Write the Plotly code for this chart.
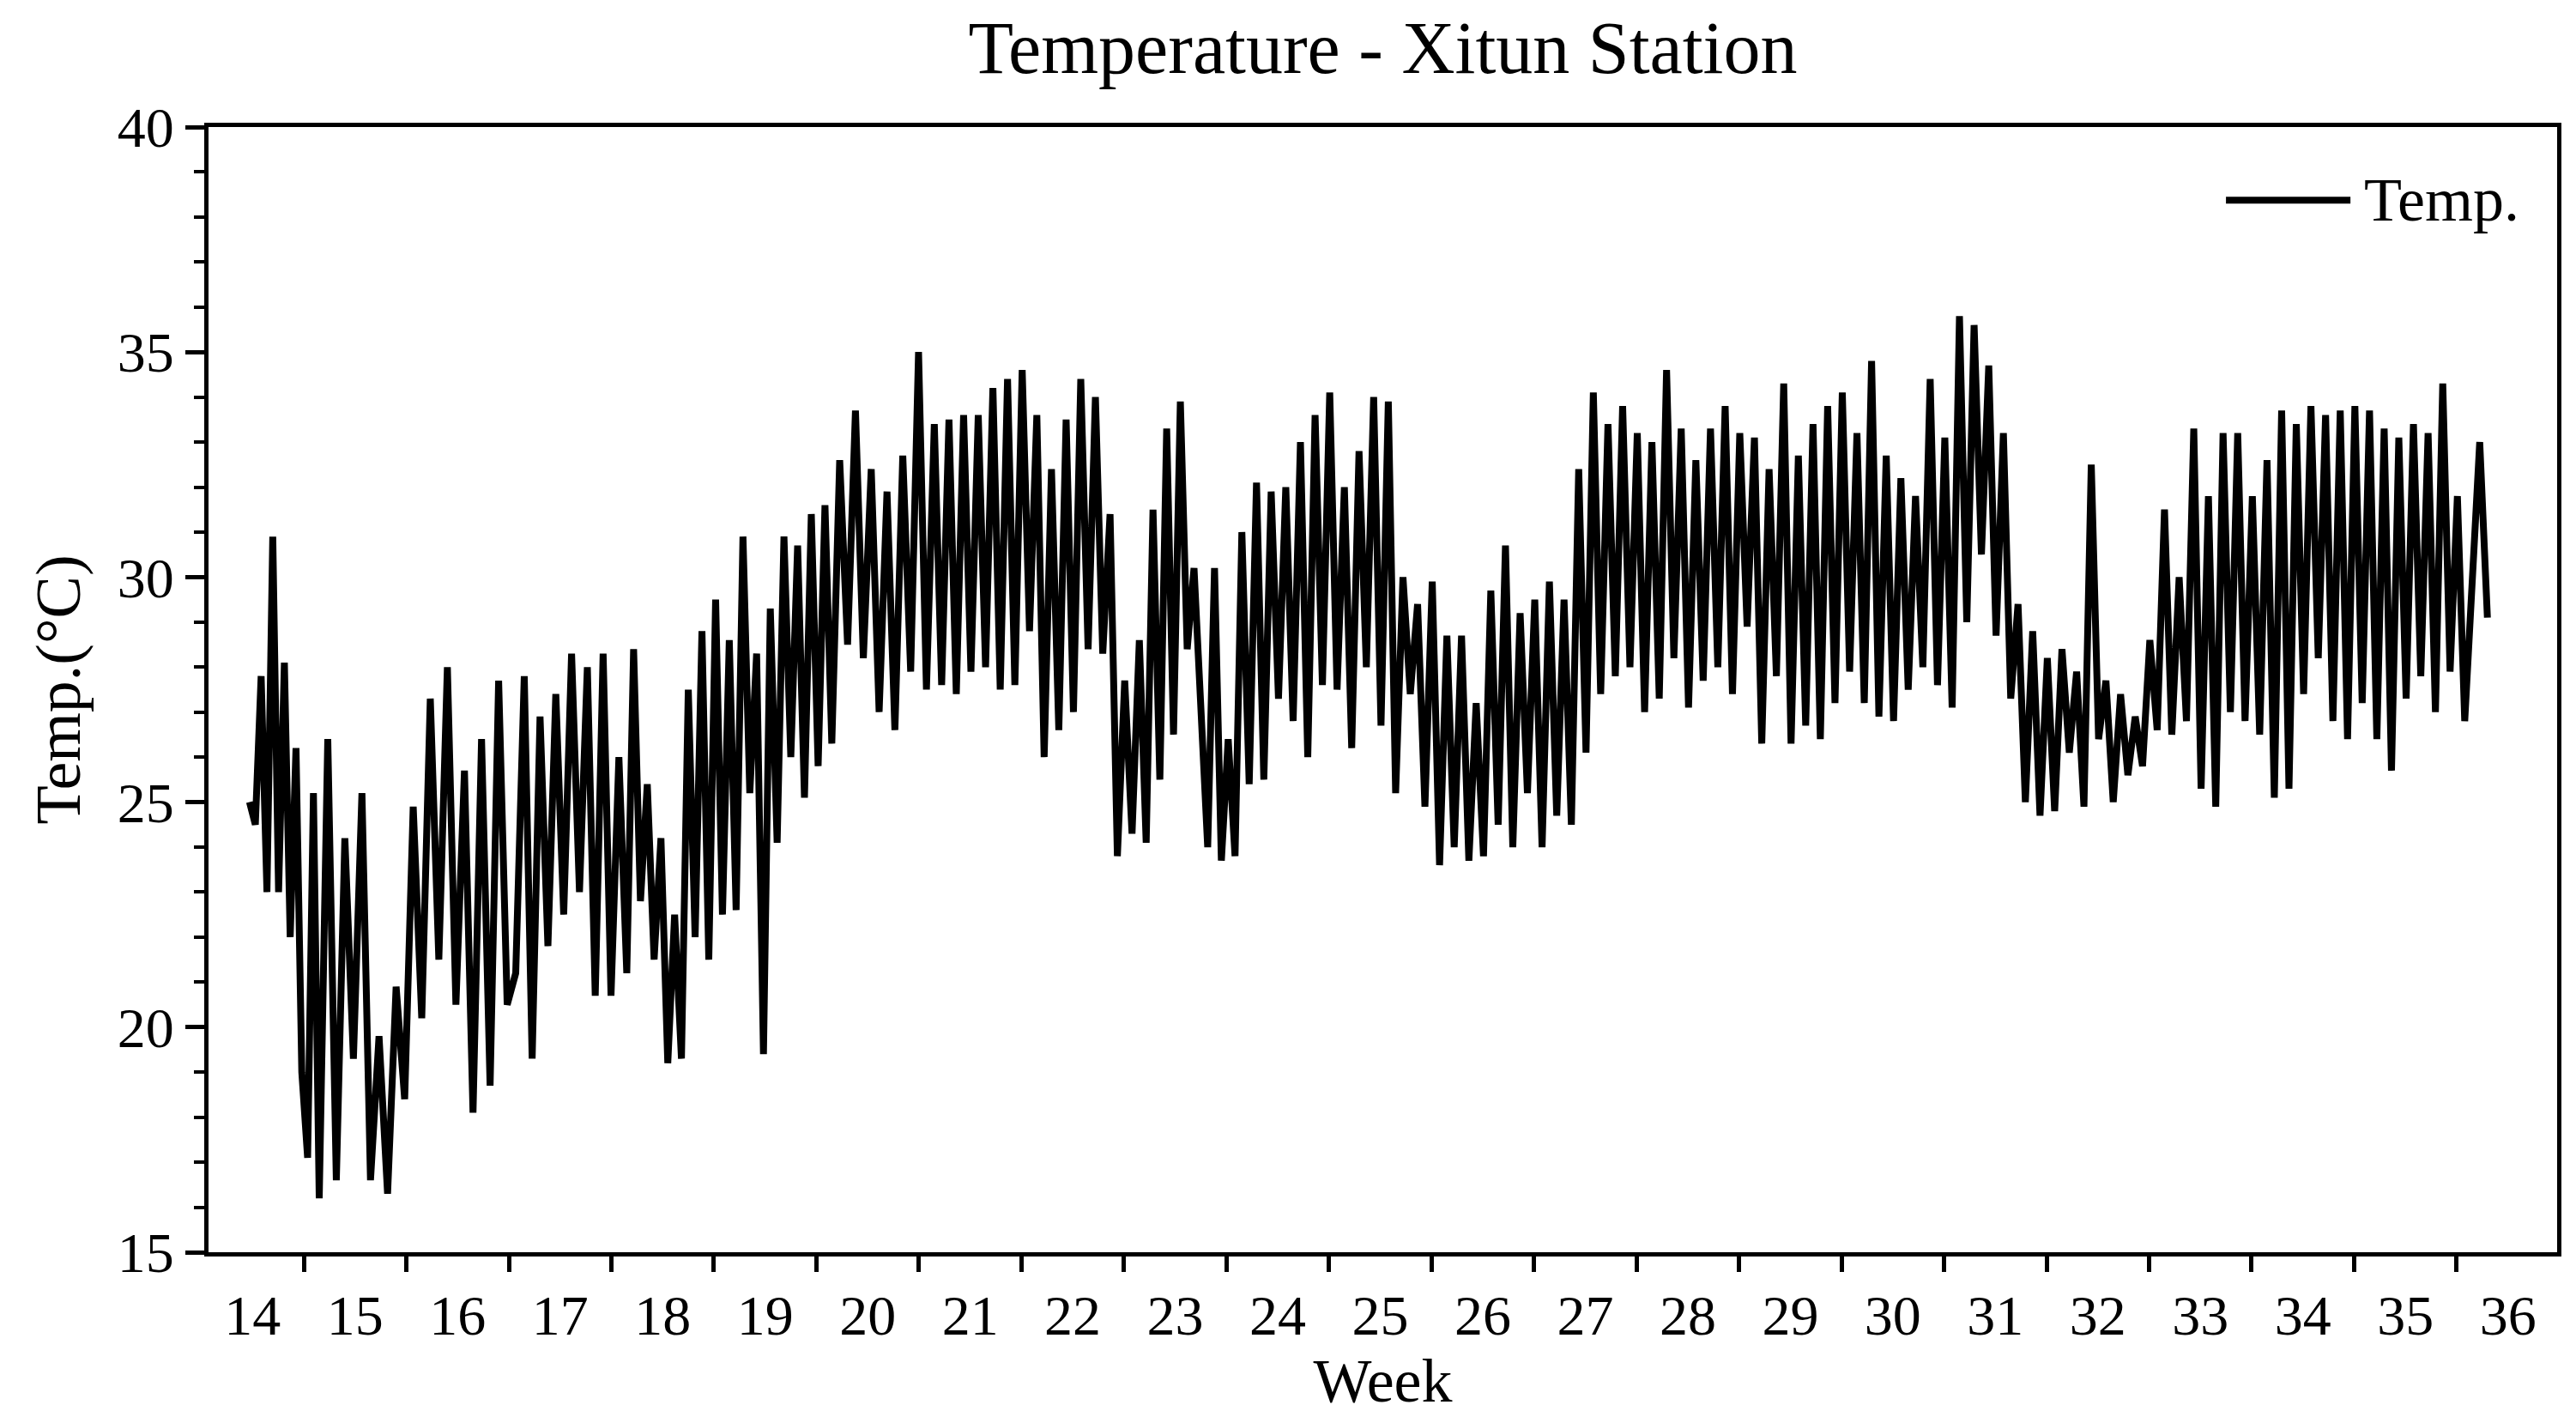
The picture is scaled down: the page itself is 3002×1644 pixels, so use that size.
import numpy as np
import plotly.graph_objects as go

# Alternating daily extrema (°C), week by week
w14 = [25.0, 24.5, 27.8, 23.0, 30.9, 23.0, 28.1, 22.0, 26.2, 19.0, 17.1, 25.2]
w15 = [16.2, 26.4, 16.6, 24.2, 19.3, 25.2, 16.6, 19.8, 16.3, 20.9, 18.4, 24.9]
w16 = [20.2, 27.3, 21.5, 28.0, 20.5, 25.7, 18.1, 26.4, 18.7, 27.7, 20.5, 21.2]
w17 = [27.8, 19.3, 26.9, 21.8, 27.4, 22.5, 28.3, 23.0, 28.0, 20.7, 28.3, 20.7, 26.0]
w18 = [21.2, 28.4, 22.8, 25.4, 21.5, 24.2, 19.2, 22.5, 19.3, 27.5, 22.0, 28.8, 21.5, 29.5, 22.5]
w19 = [28.6, 22.6, 30.9, 25.2, 28.3, 19.4, 29.3, 24.1, 30.9, 26.0, 30.7, 25.1, 31.4, 25.8, 31.6]
w20 = [26.3, 32.6, 28.5, 33.7, 28.2, 32.4, 27.0, 31.9, 26.6, 32.7, 27.9, 35.0, 27.5]
w21 = [33.4, 27.6, 33.5, 27.4, 33.6, 27.9, 33.6, 28.0, 34.2, 27.5, 34.4, 27.6, 34.6, 28.8]
w22 = [33.6, 26.0, 32.4, 26.6, 33.5, 27.0, 34.4, 28.4, 34.0, 28.3, 31.4, 23.8, 27.7, 24.3]
w23 = [28.6, 24.1, 31.5, 25.5, 33.3, 26.5, 33.9, 28.4, 30.2, 27.0, 24.0, 30.2, 23.7, 26.4, 23.8]
w24 = [31.0, 25.4, 32.1, 25.5, 31.9, 27.3, 32.0, 26.8, 33.0, 26.0, 33.6, 27.6, 34.1, 27.5]
w25 = [32.0, 26.2, 32.8, 28.0, 34.0, 26.7, 33.9, 25.2, 30.0, 27.4, 29.4, 24.9, 29.9, 23.6]
w26 = [28.7, 24.0, 28.7, 23.7, 27.2, 23.8, 29.7, 24.5, 30.7, 24.0, 29.2, 25.2, 29.5, 24.0]
w27 = [29.9, 24.7, 29.5, 24.5, 32.4, 26.1, 34.1, 27.4, 33.4, 27.8, 33.8, 28.0, 33.2, 27.0]
w28 = [33.0, 27.3, 34.6, 28.2, 33.3, 27.1, 32.6, 27.7, 33.3, 28.0, 33.8, 27.4, 33.2, 28.9]
w29 = [33.1, 26.3, 32.4, 27.8, 34.3, 26.3, 32.7, 26.7, 33.4, 26.4, 33.8, 27.2, 34.1, 27.9]
w30 = [33.2, 27.2, 34.8, 26.9, 32.7, 26.8, 32.2, 27.5, 31.8, 28.0, 34.4, 27.6, 33.1, 27.1]
w31 = [35.8, 29.0, 35.6, 30.5, 34.7, 28.7, 33.2, 27.3, 29.4, 25.0, 28.8, 24.7, 28.2, 24.8]
w32 = [28.4, 26.1, 27.9, 24.9, 32.5, 26.4, 27.7, 25.0, 27.4, 25.6, 26.9, 25.8, 28.6, 26.6]
w33 = [31.5, 26.5, 30.0, 26.8, 33.3, 25.3, 31.8, 24.9, 33.2, 27.0, 33.2, 26.8, 31.8, 26.5]
w34 = [32.6, 25.1, 33.7, 25.3, 33.4, 27.4, 33.8, 28.2, 33.6, 26.8, 33.7, 26.4, 33.8, 27.2]
w35 = [33.7, 26.4, 33.3, 25.7, 33.1, 27.3, 33.4, 27.8, 33.2, 27.0, 34.3, 27.9, 31.8, 26.8]
w36 = [33.0, 29.1]

week_data = [(14, w14), (15, w15), (16, w16), (17, w17), (18, w18), (19, w19), (20, w20),
             (21, w21), (22, w22), (23, w23), (24, w24), (25, w25), (26, w26), (27, w27),
             (28, w28), (29, w29), (30, w30), (31, w31), (32, w32), (33, w33), (34, w34),
             (35, w35), (36, w36)]
first_start = 13.97   # first reading
last_end = 35.80      # last reading
offset = 0.35         # each block starts this far before its week label
x_ticks = list(range(14, 37))

xs, ys = [], []
for wk, vals in week_data:
    start = first_start if wk == 14 else wk - offset
    end = last_end if wk == 36 else wk + 1 - offset
    n = len(vals)
    if wk == 36:
        pos = np.linspace(start, end, n + 1)[1:]
    else:
        pos = np.linspace(start, end, n, endpoint=False)
    xs.extend(pos.tolist())
    ys.extend(vals)

font = "Liberation Serif"
fig = go.Figure()
fig.add_trace(go.Scatter(x=xs, y=ys, mode="lines", name="Temp.", showlegend=False,
                         line=dict(color="black", width=8)))

# legend drawn as line sample + label
fig.add_shape(type="line", xref="paper", yref="paper", x0=0.859, x1=0.912,
              y0=0.935, y1=0.935, line=dict(color="black", width=8))
fig.add_annotation(xref="paper", yref="paper", x=0.917, y=0.935, xanchor="left", yanchor="middle",
                   text="Temp.", showarrow=False, font=dict(family=font, size=72, color="black"))

fig.update_layout(
    width=3002, height=1644, plot_bgcolor="white", paper_bgcolor="white",
    margin=dict(l=235, r=30, t=140, b=193),
    title=dict(text="Temperature - Xitun Station", xref="paper", x=0.5, xanchor="center",
               y=0.99, yanchor="top", font=dict(family=font, size=86, color="black")),
    font=dict(family=font, color="black"),
)
axis_common = dict(showline=True, linecolor="black", linewidth=5, mirror=True,
                   showgrid=False, zeroline=False, tickfont=dict(family=font, size=66))
fig.update_xaxes(range=[13.57, 36.48], tickvals=x_ticks, ticktext=[str(t) for t in x_ticks],
                 ticks="", ticklabelstandoff=12,
                 minor=dict(dtick=1, tick0=0.5, ticks="outside", ticklen=18, tickwidth=5,
                            tickcolor="black"),
                 title=dict(text="Week", font=dict(family=font, size=72), standoff=4),
                 **axis_common)
fig.update_yaxes(range=[15, 40], dtick=5, tick0=15, ticks="outside", ticklen=22, tickwidth=5,
                 tickcolor="black",
                 minor=dict(dtick=1, ticks="outside", ticklen=12, tickwidth=4, tickcolor="black"),
                 title=dict(text="Temp.(°C)", font=dict(family=font, size=74), standoff=20),
                 **axis_common)
fig.write_html("out.html")
